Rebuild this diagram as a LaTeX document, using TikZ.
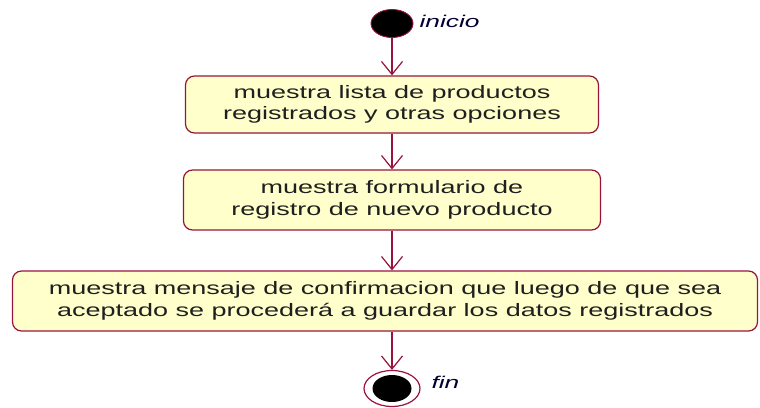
\documentclass[tikz,border=0pt]{standalone}
\usepackage{fontspec}
\setmainfont{Liberation Sans}
\newfontfamily\boxfont[FakeStretch=1.5]{Liberation Sans}
\newfontfamily\lblfont[FakeStretch=1.55]{Liberation Sans}
\usetikzlibrary{arrows.meta,shapes.geometric}
\definecolor{umlline}{RGB}{153,20,60}
\definecolor{umlfill}{RGB}{255,255,204}
\tikzset{
  actbox/.style={draw=umlline, line width=1.2pt, fill=umlfill, rounded corners=9pt,
    align=center, inner sep=0pt, font=\boxfont\fontsize{18}{21.5}\selectfont, text=black!88},
  flow/.style={draw=umlline, line width=1.2pt, -{Straight Barb[length=13pt,width=21pt,line width=1.2pt]}},
  lbl/.style={font=\lblfont\itshape\fontsize{17}{20}\selectfont, text=black!80!blue, anchor=west}
}
\begin{document}
\begin{tikzpicture}[x=1pt,y=-1pt]
\useasboundingbox (0,0) rectangle (760,407);
\node[ellipse, fill=black, draw=umlline, line width=0.9pt, minimum width=42pt, minimum height=28pt, inner sep=0pt] (start) at (392,23.5) {};
\node[lbl] (startlbl) at (416,21) {inicio};
\node[actbox, minimum width=413pt, minimum height=57pt] (a1) at (392,104.5) {muestra lista de productos\\registrados y otras opciones};
\node[actbox, minimum width=417pt, minimum height=60pt] (a2) at (392,200) {muestra formulario de\\registro de nuevo producto};
\node[actbox, minimum width=745pt, minimum height=60pt] (a3) at (385,301) {muestra mensaje de confirmacion que luego de que sea\\aceptado se procederá a guardar los datos registrados};
\node[ellipse, draw=umlline, line width=1.2pt, fill=white, minimum width=56pt, minimum height=36pt, inner sep=0pt] (end) at (392,388.5) {};
\node[ellipse, fill=black, minimum width=39pt, minimum height=27pt, inner sep=0pt] (endin) at (end.center) {};
\node[lbl] (endlbl) at (428,382) {fin};
\draw[flow] (start) -- (a1);
\draw[flow] (a1) -- (a2);
\draw[flow] (a2) -- (a3.north -| a2.south);
\draw[flow] (a3.south -| a2.south) -- (end);
\end{tikzpicture}
\end{document}
